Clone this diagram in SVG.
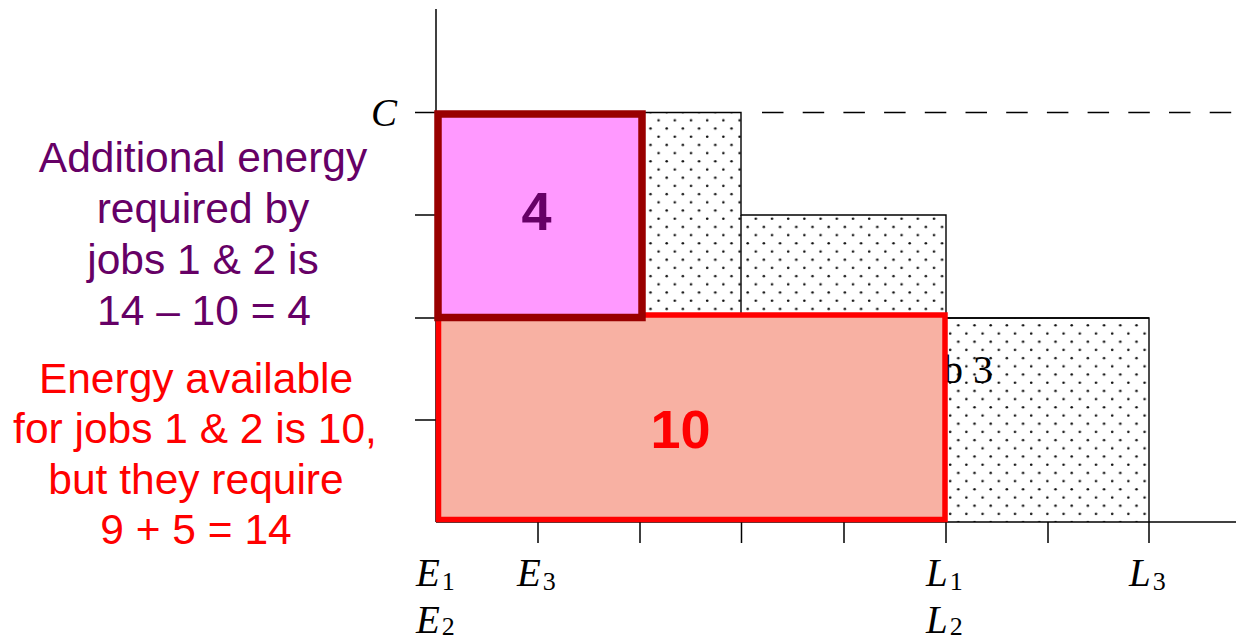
<svg xmlns="http://www.w3.org/2000/svg" width="1236" height="641" viewBox="0 0 1236 641">
<style>
.ax{stroke:#000;stroke-width:1.5;fill:none}
.job{stroke:#000;stroke-width:1.4;fill:none}
.math{font-family:"Liberation Serif",serif;font-style:italic;font-size:39px;fill:#000}
.sub{font-style:normal;font-size:26px}
.purple{font-family:"Liberation Sans",Arial,sans-serif;font-size:42.5px;fill:#660066;text-anchor:middle}
.red{font-family:"Liberation Sans",Arial,sans-serif;font-size:42.5px;fill:#ff0000;text-anchor:middle}
.big{font-family:"Liberation Sans",Arial,sans-serif;font-size:54px;font-weight:bold;text-anchor:middle}
</style>
<defs>
<pattern id="dots" patternUnits="userSpaceOnUse" x="6.55" y="9.6" width="16.2" height="16.4">
<circle cx="4.05" cy="12.3" r="1.3" fill="#111"/>
<circle cx="12.15" cy="4.1" r="1.3" fill="#111"/>
</pattern>
</defs>
<rect width="1236" height="641" fill="#fff"/>
<g id="jobs">
<path d="M436 112.5 H741 V215 H946 V318 H1149 V522 H436 Z" fill="url(#dots)" stroke="none"/>
<path class="job" d="M436 112.5 H741 V215 H946 V318 H1149 V522"/>
<line class="job" x1="741" y1="215" x2="741" y2="318"/>
<line class="job" x1="946" y1="318" x2="946" y2="522"/>
<line class="job" x1="436" y1="318" x2="1149" y2="318"/>
<text class="math" x="993" y="383" text-anchor="end" style="font-style:normal;font-size:40px">Job 3</text>
</g>
<g id="axes">
<line class="ax" x1="436" y1="9" x2="436" y2="522"/>
<line class="ax" x1="436" y1="522" x2="1236" y2="522"/>
<line class="ax" x1="415" y1="112.5" x2="436" y2="112.5"/>
<line class="ax" x1="415" y1="215" x2="436" y2="215"/>
<line class="ax" x1="415" y1="318" x2="436" y2="318"/>
<line class="ax" x1="415" y1="420" x2="436" y2="420"/>
<line class="ax" x1="538" y1="522" x2="538" y2="543"/>
<line class="ax" x1="640" y1="522" x2="640" y2="543"/>
<line class="ax" x1="741.5" y1="522" x2="741.5" y2="543"/>
<line class="ax" x1="844" y1="522" x2="844" y2="543"/>
<line class="ax" x1="946" y1="522" x2="946" y2="543"/>
<line class="ax" x1="1048" y1="522" x2="1048" y2="543"/>
<line class="ax" x1="1149" y1="522" x2="1149" y2="543"/>
<line x1="762" y1="112.5" x2="1236" y2="112.5" stroke="#000" stroke-width="1.6" stroke-dasharray="21.5 19.2"/>
</g>
<g id="labels">
<text class="math" x="371" y="126">C</text>
<text class="math" x="416" y="586">E<tspan class="sub" dx="2" dy="4">1</tspan></text>
<text class="math" x="416" y="633">E<tspan class="sub" dx="2" dy="2">2</tspan></text>
<text class="math" x="517" y="586">E<tspan class="sub" dx="2" dy="4">3</tspan></text>
<text class="math" x="926" y="586">L<tspan class="sub" dx="2" dy="4">1</tspan></text>
<text class="math" x="926" y="633">L<tspan class="sub" dx="2" dy="2">2</tspan></text>
<text class="math" x="1129" y="586">L<tspan class="sub" dx="2" dy="4">3</tspan></text>
</g>
<g id="available">
<rect x="438.5" y="315" width="506.5" height="204.5" fill="#f8b1a3" stroke="#ff0000" stroke-width="5.5"/>
<text class="big" x="680.5" y="448" fill="#ff0000">10</text>
</g>
<g id="additional">
<rect x="438" y="114" width="204" height="203.5" fill="#ff99ff" stroke="#990000" stroke-width="7.5"/>
<text class="big" x="536.5" y="230" fill="#660066">4</text>
</g>
<g id="note-additional">
<text class="purple" x="203" y="172">Additional energy</text>
<text class="purple" x="203" y="223">required by</text>
<text class="purple" x="203" y="274">jobs 1 &amp; 2 is</text>
<text class="purple" x="204" y="325">14 – 10 = 4</text>
</g>
<g id="note-available">
<text class="red" x="196" y="393">Energy available</text>
<text class="red" x="195" y="443">for jobs 1 &amp; 2 is 10,</text>
<text class="red" x="196" y="494">but they require</text>
<text class="red" x="196" y="544">9 + 5 = 14</text>
</g>
</svg>
